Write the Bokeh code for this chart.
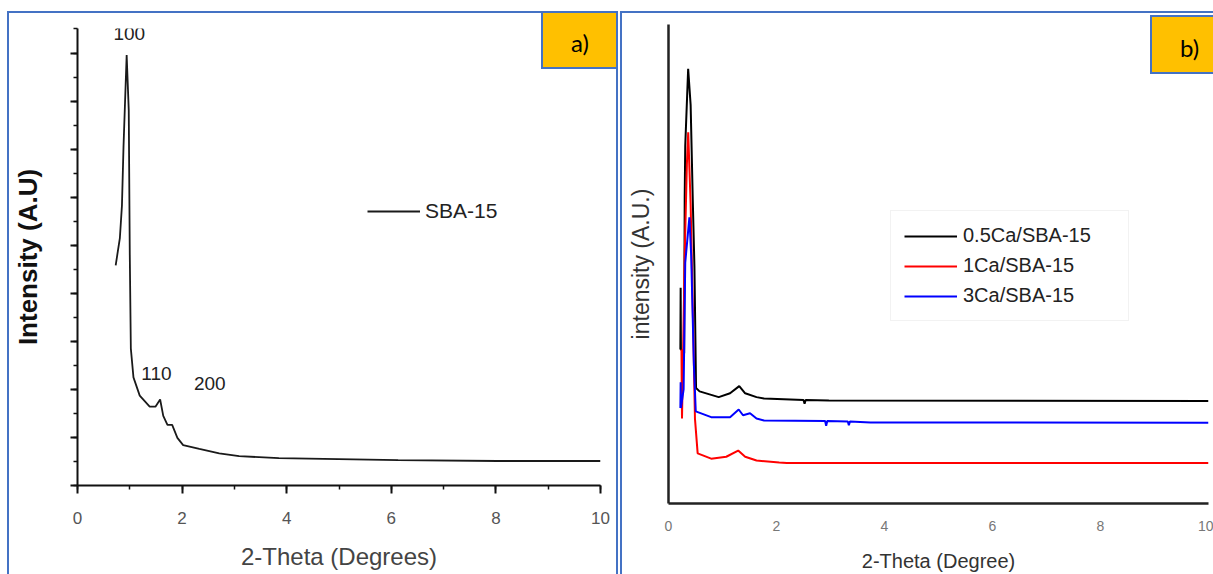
from bokeh.plotting import figure
from bokeh.models import (Range1d, SingleIntervalTicker, FixedTicker, Label,
                          LabelSet, ColumnDataSource, Legend, LegendItem)
from bokeh.core.properties import value
from bokeh.layouts import row
from bokeh.embed import file_html
from bokeh.resources import INLINE

FONT = "Liberation Sans"
BORDER_BLUE = "#4472C4"
ORANGE = "#FFC000"

# ---------------- Panel a) data : SBA-15 ----------------
sba_x = [0.73, 0.81, 0.85, 0.88, 0.94, 0.98, 1.00, 1.02, 1.07, 1.19, 1.38, 1.49, 1.58,
         1.64, 1.72, 1.81, 1.91, 2.02, 2.33, 2.71, 3.09, 3.85, 4.99, 6.13, 8.03, 10.0]
sba_y = [4.58, 5.15, 5.83, 7.06, 8.96, 7.81, 4.77, 2.85, 2.25, 1.87, 1.64, 1.64, 1.79,
         1.45, 1.26, 1.26, 0.99, 0.84, 0.76, 0.67, 0.61, 0.57, 0.55, 0.53, 0.51, 0.51]
peak_labels = ["100", "110", "200"]
peak_label_x = [0.99, 1.51, 2.53]
peak_label_y = [9.41, 2.33, 2.13]

# ---------------- Panel b) data : Ca/SBA-15 ----------------
ca05_x = [0.22, 0.225, 0.23, 0.29, 0.30, 0.31, 0.364, 0.41, 0.45, 0.48, 0.50, 0.51, 0.575,
          0.93, 1.14, 1.31, 1.42, 1.63, 1.77, 2.50, 2.52, 2.54, 2.97, 10.0]
ca05_y = [32.3, 45.2, 32.3, 31.5, 64.2, 75.0, 91.1, 83.5, 63.4, 49.7, 33.0, 24.2, 23.5,
          22.3, 23.1, 24.6, 23.1, 22.3, 22.0, 21.7, 20.9, 21.7, 21.6, 21.5]
ca1_x = [0.24, 0.245, 0.25, 0.30, 0.34, 0.365, 0.41, 0.45, 0.49, 0.54, 0.79, 1.07, 1.29,
         1.42, 1.63, 2.05, 2.19, 10.0]
ca1_y = [32.3, 25.0, 17.8, 52.0, 71.0, 77.8, 62.7, 40.6, 17.8, 10.5, 9.4, 9.8, 11.1,
         9.8, 9.0, 8.6, 8.5, 8.5]
ca3_x = [0.22, 0.225, 0.23, 0.28, 0.31, 0.387, 0.42, 0.47, 0.505, 0.79, 1.14, 1.30, 1.38,
         1.51, 1.63, 1.77, 2.90, 2.92, 2.94, 3.32, 3.34, 3.36, 3.74, 10.0]
ca3_y = [20.0, 25.4, 20.0, 23.9, 50.5, 60.0, 52.0, 29.2, 19.3, 18.1, 18.1, 19.7, 18.5,
         18.9, 17.8, 17.4, 17.3, 16.3, 17.3, 17.2, 16.4, 17.2, 17.0, 16.9]
series_names = ["0.5Ca/SBA-15", "1Ca/SBA-15", "3Ca/SBA-15"]
series_colors = ["#000000", "#FF0000", "#0000FF"]


def rect_layer(color, left, top, w, h):
    return f"linear-gradient({color}, {color}) {left}px {top}px / {w}px {h}px no-repeat"


# panel frames and orange tag boxes painted as CSS background layers of each figure
style_a = {"background": ", ".join([
    rect_layer(ORANGE, 543, 13, 73, 54),
    rect_layer(BORDER_BLUE, 541, 11, 77, 58),
    rect_layer(BORDER_BLUE, 7, 11, 611, 2),
    rect_layer(BORDER_BLUE, 7, 11, 2, 600),
    rect_layer(BORDER_BLUE, 616, 11, 2, 600),
    "#ffffff"])}
style_b = {"background": ", ".join([
    rect_layer(ORANGE, 532, 17, 70, 55),
    rect_layer(BORDER_BLUE, 530, 15, 70, 59),
    rect_layer(BORDER_BLUE, 0, 11, 600, 2),
    rect_layer(BORDER_BLUE, 0, 11, 2, 600),
    "#ffffff"])}


def tag_label(x, y, text):
    return Label(x=x, y=y, x_units="canvas", y_units="canvas", text=text,
                 text_font="Lato", text_font_size="24px", text_align="center",
                 text_baseline="middle", text_color="#000000")


# ================= Panel a =================
pa = figure(width=620, height=574, x_range=Range1d(0, 10), y_range=Range1d(0, 9.51),
            output_backend="svg", toolbar_location=None, frame_align=False,
            min_border_left=77, min_border_right=20, min_border_top=28, min_border_bottom=89)
pa.styles = style_a
pa.outline_line_color = None
pa.grid.visible = False
pa.background_fill_color = None
pa.border_fill_color = None

ra = pa.line(sba_x, sba_y, line_color="#1a1a1a", line_width=1.8)

xa = pa.xaxis[0]
xa.ticker = SingleIntervalTicker(interval=2, num_minor_ticks=2)
xa.axis_line_width = 2
xa.axis_line_color = "#111111"
xa.major_tick_line_width = 2
xa.major_tick_line_color = "#111111"
xa.major_tick_out = 8
xa.major_tick_in = 0
xa.minor_tick_out = 4
xa.minor_tick_in = 0
xa.minor_tick_line_width = 1.5
xa.minor_tick_line_color = "#111111"
xa.major_label_text_font = FONT
xa.major_label_text_font_size = "17px"
xa.major_label_text_color = "#555555"
xa.major_label_standoff = 18
xa.axis_label = "2-Theta (Degrees)"
xa.axis_label_text_font = FONT
xa.axis_label_text_font_size = "24px"
xa.axis_label_text_font_style = "normal"
xa.axis_label_text_color = "#444444"
xa.axis_label_standoff = 16

ya = pa.yaxis[0]
ya.ticker = SingleIntervalTicker(interval=1, num_minor_ticks=2)
ya.axis_line_width = 2
ya.axis_line_color = "#111111"
ya.major_tick_line_width = 2
ya.major_tick_line_color = "#111111"
ya.major_tick_out = 7
ya.major_tick_in = 0
ya.minor_tick_out = 4
ya.minor_tick_in = 0
ya.minor_tick_line_width = 1.5
ya.minor_tick_line_color = "#111111"
ya.major_label_overrides = {i: "" for i in range(0, 10)}
ya.major_label_standoff = 0
ya.axis_label = "Intensity (A.U)"
ya.axis_label_text_font = FONT
ya.axis_label_text_font_size = "26px"
ya.axis_label_text_font_style = "bold"
ya.axis_label_text_color = "#111111"
ya.axis_label_standoff = 28

peak_src = ColumnDataSource(dict(x=peak_label_x, y=peak_label_y, t=peak_labels))
pa.add_layout(LabelSet(x="x", y="y", text="t", source=peak_src, text_align="center",
                       text_baseline="middle", text_font=value(FONT),
                       text_font_size="19px", text_color="#222222"))

leg_a = Legend(items=[LegendItem(label="SBA-15", renderers=[ra])], location=(290, 262),
               padding=0, margin=0, glyph_width=53, glyph_height=20, label_height=20,
               label_standoff=5, label_text_font=FONT, label_text_font_size="21px",
               label_text_color="#222222", border_line_color=None, background_fill_alpha=0)
pa.add_layout(leg_a)
pa.add_layout(tag_label(579.5, 42, "a)"))

# ================= Panel b =================
pb = figure(width=593, height=574, x_range=Range1d(0, 10), y_range=Range1d(0, 100.4),
            output_backend="svg", toolbar_location=None, frame_align=False,
            min_border_left=48, min_border_right=5, min_border_top=24, min_border_bottom=68)
pb.styles = style_b
pb.outline_line_color = None
pb.grid.visible = False
pb.background_fill_color = None
pb.border_fill_color = None

rb = []
for xs, ys, c in zip([ca05_x, ca1_x, ca3_x], [ca05_y, ca1_y, ca3_y], series_colors):
    rb.append(pb.line(xs, ys, line_color=c, line_width=2))

xb = pb.xaxis[0]
xb.ticker = SingleIntervalTicker(interval=2, num_minor_ticks=0)
xb.axis_line_width = 2.5
xb.axis_line_color = "#222222"
xb.major_tick_out = 0
xb.major_tick_in = 0
xb.minor_tick_out = 0
xb.minor_tick_in = 0
xb.major_label_text_font = FONT
xb.major_label_text_font_size = "14px"
xb.major_label_text_color = "#777777"
xb.major_label_standoff = 17
xb.axis_label = "2-Theta (Degree)"
xb.axis_label_text_font = FONT
xb.axis_label_text_font_size = "20px"
xb.axis_label_text_font_style = "normal"
xb.axis_label_text_color = "#333333"
xb.axis_label_standoff = 16

yb = pb.yaxis[0]
yb.ticker = FixedTicker(ticks=[])
yb.axis_line_width = 2.5
yb.axis_line_color = "#222222"
yb.major_tick_out = 0
yb.major_tick_in = 0
yb.minor_tick_out = 0
yb.minor_tick_in = 0
yb.major_label_standoff = 0
yb.axis_label = "intensity (A.U.)"
yb.axis_label_text_font = FONT
yb.axis_label_text_font_size = "23px"
yb.axis_label_text_font_style = "normal"
yb.axis_label_text_color = "#333333"
yb.axis_label_standoff = 15

leg_b = Legend(items=[LegendItem(label=n, renderers=[r]) for n, r in zip(series_names, rb)],
               location=(222, 182), padding=13, margin=0, spacing=7, glyph_width=53,
               glyph_height=16, label_height=16, label_width=152, label_standoff=6,
               label_text_font=FONT, label_text_font_size="20px", label_text_color="#222222",
               border_line_color="#e6e6e6", border_line_width=1, background_fill_color="white",
               background_fill_alpha=1)
pb.add_layout(leg_b)
pb.add_layout(tag_label(569, 47, "b)"))

layout = row(pa, pb, spacing=0)
open("out.html", "w").write(file_html(layout, INLINE))
